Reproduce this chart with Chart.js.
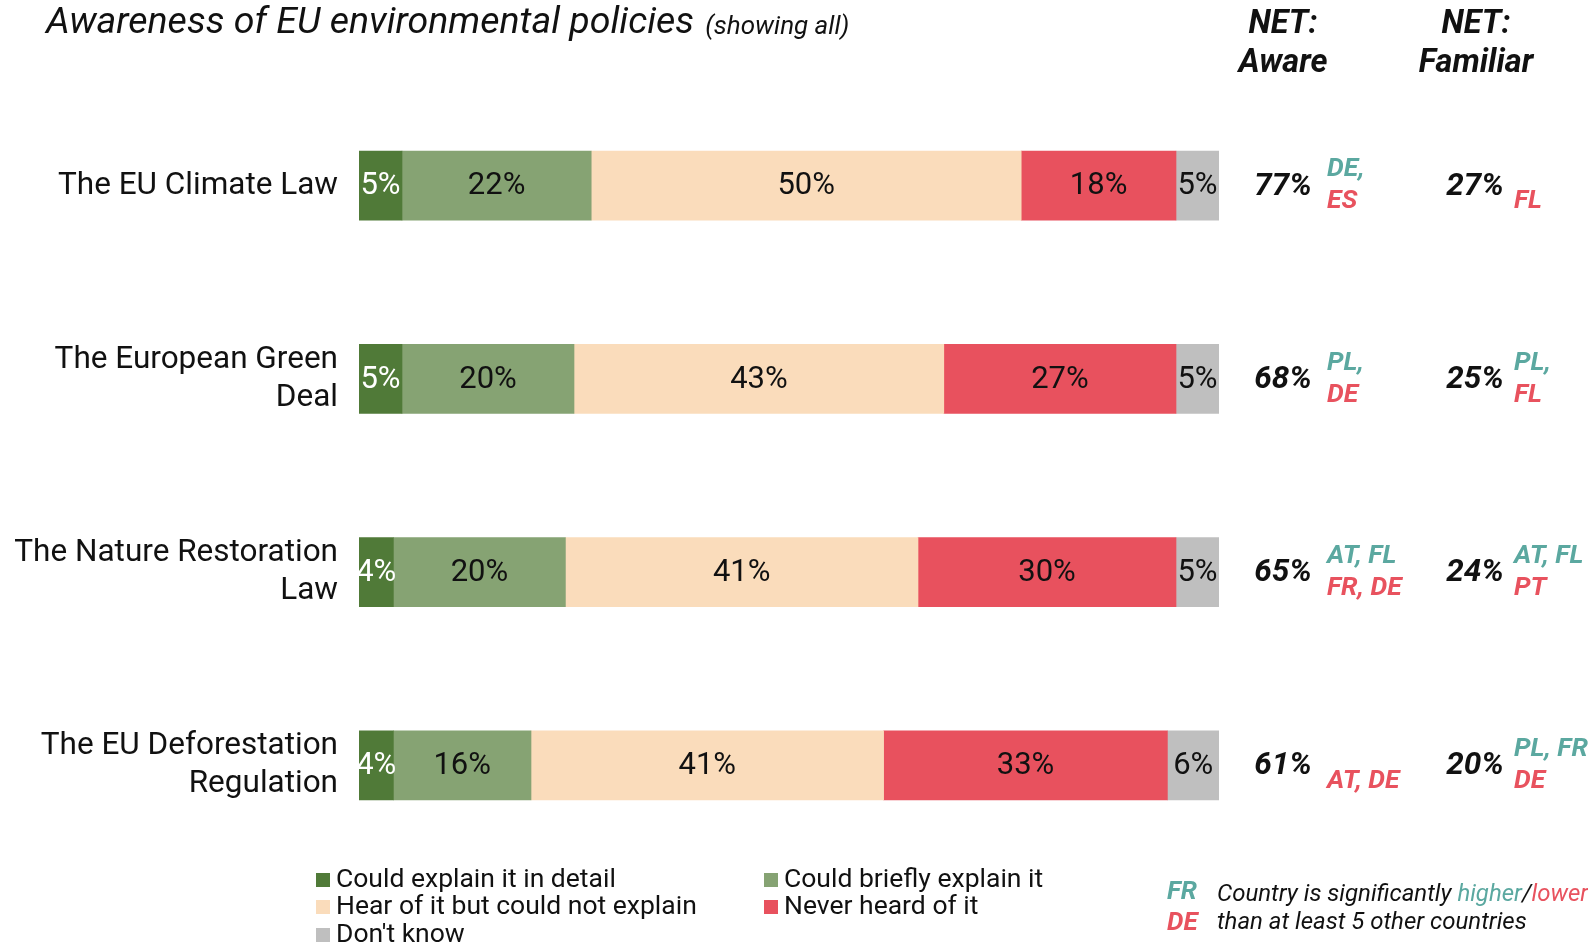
<!DOCTYPE html>
<html>
<head>
<meta charset="utf-8">
<script src="https://cdn.jsdelivr.net/npm/chart.js@4"></script>
<style>
  body { margin: 0; background: #fff; }
  #wrap { width: 1588px; height: 945px; position: relative; }
</style>
</head>
<body>
<div id="wrap"><canvas id="c"></canvas></div>
<script>
// categories (multi-line labels)
var policies = [
  ['The EU Climate Law'],
  ['The European Green', 'Deal'],
  ['The Nature Restoration', 'Law'],
  ['The EU Deforestation', 'Regulation']
];
var seriesNames = ['Could explain it in detail', 'Could briefly explain it', 'Hear of it but could not explain', 'Never heard of it', "Don't know"];
var seriesColors = ['#507a38', '#86a373', '#fadcbb', '#e8515e', '#bfbfbf'];

var explainDetail = [5, 5, 4, 4];
var explainBriefly = [22, 20, 20, 16];
var heardNotExplain = [50, 43, 41, 41];
var neverHeard = [18, 27, 30, 33];
var dontKnow = [5, 5, 5, 6];

var netAware = [77, 68, 65, 61];
var netFamiliar = [27, 25, 24, 20];
var awareHigher = ['DE,', 'PL,', 'AT, FL', ''];
var awareLower = ['ES', 'DE', 'FR, DE', 'AT, DE'];
var familiarHigher = ['', 'PL,', 'AT, FL', 'PL, FR'];
var familiarLower = ['FL', 'FL', 'PT', 'DE'];

var TEAL = '#5ba8a0', RED = '#e8525e';
var FONT = 'Roboto, "Noto Sans", sans-serif';

var seriesData = [explainDetail, explainBriefly, heardNotExplain, neverHeard, dontKnow];
var datasets = seriesData.map(function(d, i){
  return {
    label: seriesNames[i],
    data: d,
    backgroundColor: seriesColors[i],
    borderWidth: 0,
    barThickness: 69
  };
});

// numbers inside bars
var barLabels = {
  id: 'barLabels',
  afterDatasetsDraw: function(chart){
    var ctx = chart.ctx;
    ctx.save();
    ctx.font = '31px ' + FONT;
    ctx.textAlign = 'center';
    ctx.textBaseline = 'middle';
    chart.data.datasets.forEach(function(ds, di){
      chart.getDatasetMeta(di).data.forEach(function(bar, i){
        ctx.fillStyle = di === 0 ? '#ffffff' : '#111111';
        ctx.fillText(ds.data[i] + '%', (bar.x + bar.base) / 2, bar.y + 1);
      });
    });
    ctx.restore();
  }
};

// title, NET columns, legend, footnote
var extras = {
  id: 'extras',
  afterDraw: function(chart){
    var ctx = chart.ctx;
    var y = chart.scales.y;
    ctx.save();
    ctx.textBaseline = 'middle';
    ctx.fillStyle = '#111';

    // title
    ctx.textAlign = 'left';
    ctx.font = 'italic 37.5px ' + FONT;
    ctx.fillText('Awareness of EU environmental policies', 46, 24);
    var w = ctx.measureText('Awareness of EU environmental policies').width;
    ctx.font = 'italic 26px ' + FONT;
    ctx.fillText('(showing all)', 46 + w + 11, 27);

    // headers
    ctx.textAlign = 'center';
    ctx.font = 'italic bold 32.5px ' + FONT;
    ctx.fillText('NET:', 1283, 25);
    ctx.fillText('Aware', 1283, 64);
    ctx.fillText('NET:', 1476, 25);
    ctx.fillText('Familiar', 1476, 64);

    for (var i = 0; i < policies.length; i++) {
      var cy = y.getPixelForValue(i);
      ctx.textAlign = 'center';
      ctx.fillStyle = '#111';
      ctx.font = 'italic bold 31.5px ' + FONT;
      ctx.fillText(netAware[i] + '%', 1283, cy + 1);
      ctx.fillText(netFamiliar[i] + '%', 1475, cy + 1);

      ctx.textAlign = 'left';
      ctx.font = 'italic bold 26.5px ' + FONT;
      ctx.fillStyle = TEAL;
      if (awareHigher[i]) ctx.fillText(awareHigher[i], 1327, cy - 16);
      if (familiarHigher[i]) ctx.fillText(familiarHigher[i], 1514, cy - 16);
      ctx.fillStyle = RED;
      if (awareLower[i]) ctx.fillText(awareLower[i], 1327, cy + 16);
      if (familiarLower[i]) ctx.fillText(familiarLower[i], 1514, cy + 16);
    }

    // legend
    var legendPos = [[316, 880], [764, 880], [316, 907], [764, 907], [316, 935]];
    ctx.font = '26.5px ' + FONT;
    ctx.textAlign = 'left';
    seriesNames.forEach(function(name, k){
      var p = legendPos[k];
      ctx.fillStyle = seriesColors[k];
      ctx.fillRect(p[0], p[1] - 7, 14, 14);
      ctx.fillStyle = '#111';
      ctx.fillText(name, p[0] + 20, p[1]);
    });

    // footnote
    ctx.font = 'italic bold 26px ' + FONT;
    ctx.fillStyle = TEAL;
    ctx.fillText('FR', 1167, 892);
    ctx.fillStyle = RED;
    ctx.fillText('DE', 1167, 923);
    ctx.font = 'italic 24px ' + FONT;
    ctx.fillStyle = '#111';
    var x0 = 1217;
    var t1 = 'Country is significantly ';
    ctx.fillText(t1, x0, 895);
    x0 += ctx.measureText(t1).width;
    ctx.fillStyle = TEAL;
    ctx.fillText('higher', x0, 895);
    x0 += ctx.measureText('higher').width;
    ctx.fillStyle = '#111';
    ctx.fillText('/', x0, 895);
    x0 += ctx.measureText('/').width;
    ctx.fillStyle = RED;
    ctx.fillText('lower', x0, 895);
    ctx.fillStyle = '#111';
    ctx.fillText('than at least 5 other countries', 1217, 923);
    ctx.restore();
  }
};

new Chart(document.getElementById('c'), {
  type: 'bar',
  data: { labels: policies, datasets: datasets },
  options: {
    indexAxis: 'y',
    responsive: true,
    maintainAspectRatio: false,
    animation: false,
    layout: { padding: { top: 89, bottom: 83, right: 369, left: 0 } },
    plugins: { legend: { display: false }, tooltip: { enabled: false } },
    scales: {
      x: { stacked: true, min: 0, max: 100, display: false },
      y: {
        stacked: true,
        grid: { display: false, drawTicks: false },
        border: { display: false },
        ticks: { color: '#111', font: { family: FONT, size: 31.5, lineHeight: 1.2 }, padding: 21 },
        afterFit: function(scale){ scale.width = 359; }
      }
    }
  },
  plugins: [barLabels, extras]
});
</script>
</body>
</html>
